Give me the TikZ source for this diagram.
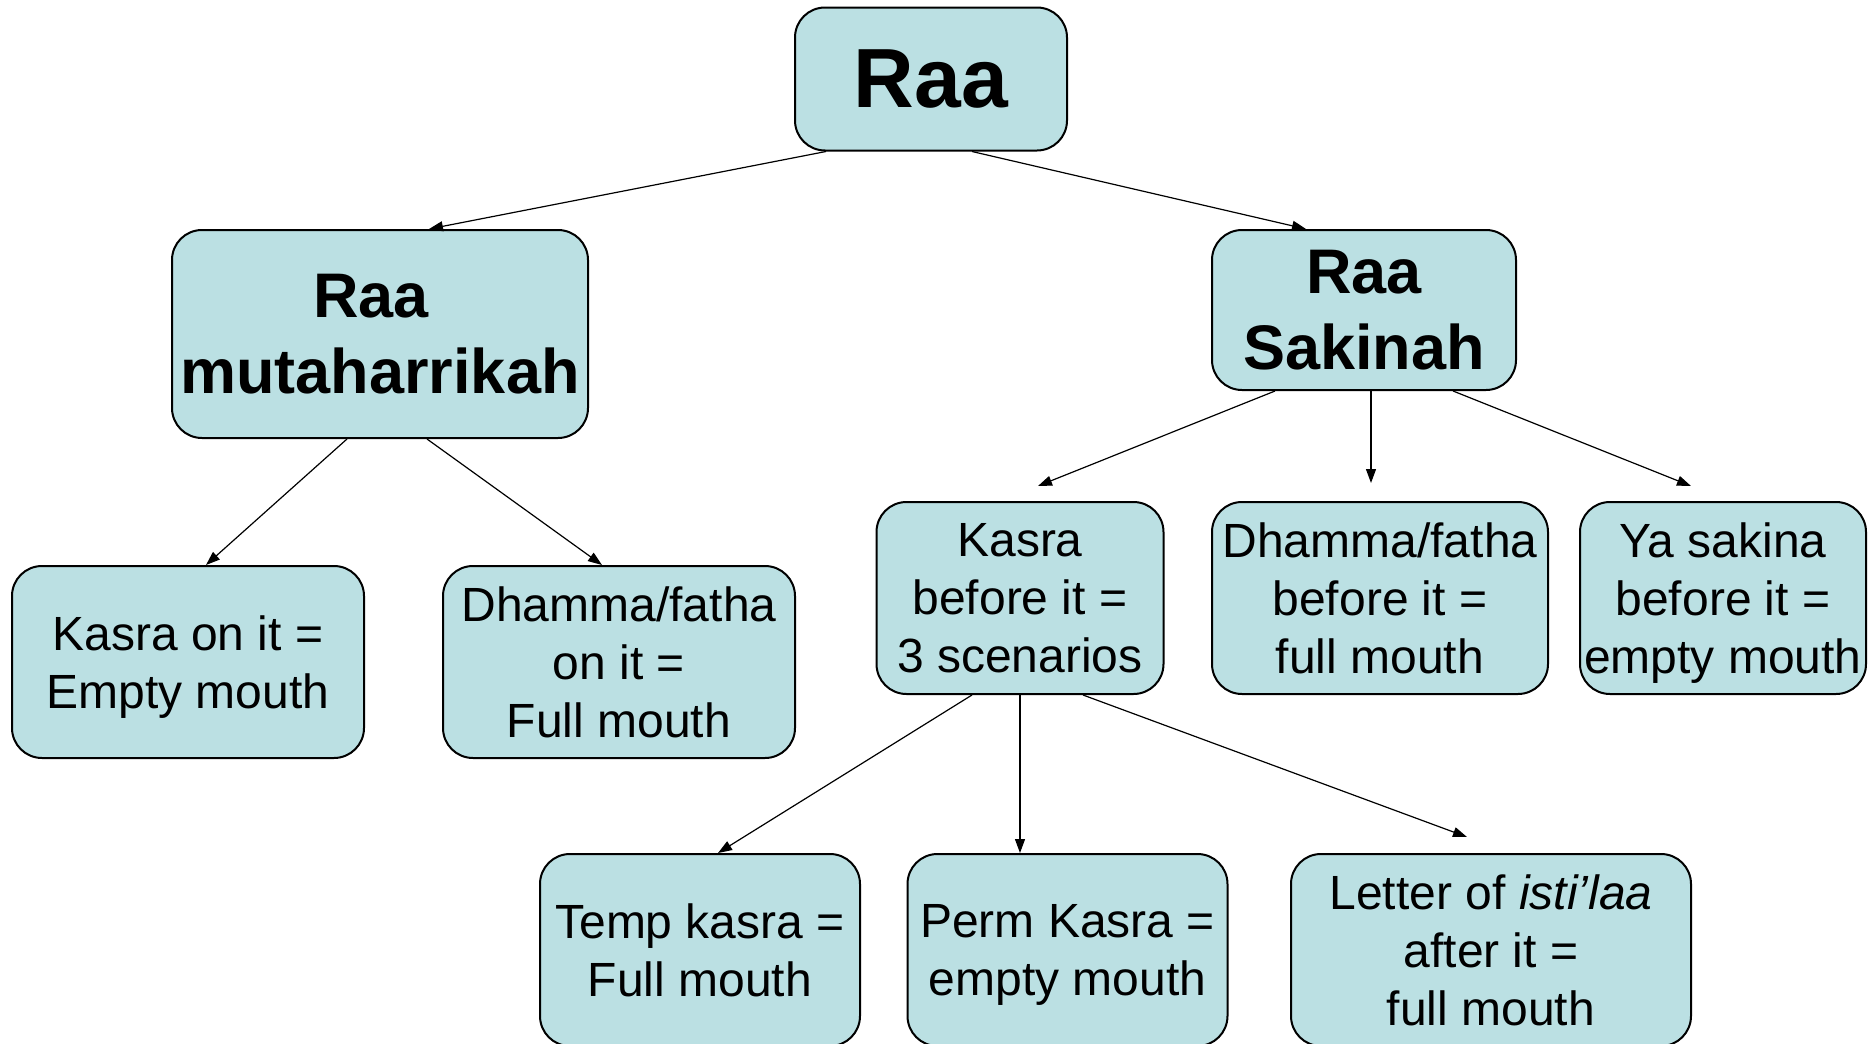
\documentclass[tikz,border=0pt]{standalone}
\usepackage{fontspec}
\setmainfont{Liberation Sans}
\usetikzlibrary{arrows.meta}
\definecolor{boxfill}{HTML}{BBE0E3}

\begin{document}
\begin{tikzpicture}[x=0.5pt,y=-0.5pt,-{Triangle[length=7pt,width=5pt]},line width=0.6pt,
  main node/.style={rectangle,rounded corners=15pt,draw,line width=1pt,fill=boxfill,align=center,inner sep=0pt,text depth=0pt,font=\fontsize{24}{29}\selectfont,minimum height=96pt},
  head node/.style={main node,font=\fontsize{31.5}{38}\selectfont\bfseries}]

  \useasboundingbox (0,0) rectangle (1870,1044);

  \node[head node,minimum width=136pt,minimum height=71.5pt,font=\fontsize{42}{50}\selectfont\bfseries] (1) at (931,79) {Raa};
  \node[head node,minimum width=208pt,minimum height=104pt] (2) at (380,334) {Raa\hspace*{9pt}\\mutaharrikah};
  \node[head node,minimum width=152pt,minimum height=80pt] (3) at (1364,310) {Raa\\Sakinah};

  \node[main node,minimum width=176pt] (4) at (188,662) {Kasra on it =\\Empty mouth};
  \node[main node,minimum width=176pt] (5) at (619,662) {Dhamma/fatha\\on it =\\Full mouth};

  \node[main node,minimum width=143.5pt] (6) at (1020,598) {Kasra\\before it =\\3 scenarios};
  \node[main node,minimum width=168pt] (7) at (1380,598) {Dhamma/fatha\\before it =\\full mouth};
  \node[main node,minimum width=143pt] (8) at (1723,598) {Ya sakina\\before it =\\empty mouth};

  \node[main node,minimum width=160pt] (9) at (700,950) {Temp kasra =\\Full mouth};
  \node[main node,minimum width=160pt] (10) at (1067.5,950) {Perm Kasra =\\empty mouth};
  \node[main node,minimum width=200pt] (11) at (1491,950) {Letter of \textit{isti’laa}\\after it =\\full mouth};

  \path
    ([xshift=-52.5pt]1.south) edge ([xshift=24.5pt]2.north)
    ([xshift=20.5pt]1.south) edge ([xshift=-29pt]3.north)
    ([xshift=-16.5pt]2.south) edge ([xshift=9pt]4.north)
    ([xshift=23.5pt]2.south) edge ([xshift=-8.5pt]5.north)
    ([xshift=-44.5pt]3.south) edge ([xshift=9pt,yshift=7.5pt]6.north)
    ([xshift=3.5pt]3.south) edge ([xshift=-4.5pt,yshift=9pt]7.north)
    ([xshift=44.5pt]3.south) edge ([xshift=-16pt,yshift=7.5pt]8.north)
    ([xshift=-24pt]6.south) edge ([xshift=9pt]9.north)
    (6.south) edge ([xshift=-23.75pt]10.north)
    ([xshift=31.5pt]6.south) edge ([xshift=-12pt,yshift=8pt]11.north);
\end{tikzpicture}
\end{document}
